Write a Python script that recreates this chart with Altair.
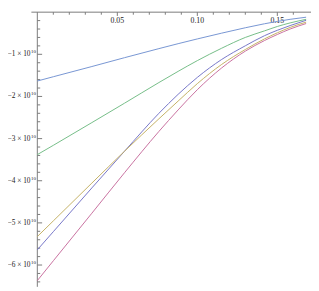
import altair as alt
import pandas as pd

# ---- data (y values in units of 10^10) ----
x_vals = [0, 0.0102, 0.0341, 0.0545, 0.076, 0.088, 0.1, 0.115, 0.13, 0.142, 0.15, 0.158, 0.168]
y_top_blue = [-1.634, -1.53, -1.29, -1.08, -0.865, -0.748, -0.635, -0.50, -0.37, -0.275, -0.22, -0.17, -0.12]
y_green = [-3.38, -3.155, -2.62, -2.16, -1.67, -1.405, -1.15, -0.86, -0.60, -0.444, -0.34, -0.255, -0.17]
y_olive = [-5.325, -4.945, -4.055, -3.30, -2.53, -2.11, -1.696, -1.246, -0.886, -0.634, -0.49, -0.362, -0.237]
y_purple = [-5.64, -5.20, -4.17, -3.30, -2.40, -1.95, -1.548, -1.128, -0.798, -0.558, -0.43, -0.318, -0.193]
y_magenta = [-6.37, -5.89, -4.77, -3.81, -2.83, -2.32, -1.84, -1.33, -0.925, -0.673, -0.53, -0.40, -0.27]

series_names = ["purple", "magenta", "olive", "green", "blue"]
series_colors = ["#7676c8", "#c8709f", "#c4b064", "#74bc86", "#7694d2"]

x_major = [0.05, 0.10, 0.15]
x_major_labels = ["0.05", "0.10", "0.15"]
x_minor = [0.01, 0.02, 0.03, 0.04, 0.06, 0.07, 0.08, 0.09, 0.11, 0.12, 0.13, 0.14, 0.16]
y_major = [-1, -2, -3, -4, -5, -6]
y_major_labels = ["\u22121 \u00d7 10", "\u22122 \u00d7 10", "\u22123 \u00d7 10",
                  "\u22124 \u00d7 10", "\u22125 \u00d7 10", "\u22126 \u00d7 10"]
y_minor = [-0.2, -0.4, -0.6, -0.8, -1.2, -1.4, -1.6, -1.8, -2.2, -2.4, -2.6, -2.8,
           -3.2, -3.4, -3.6, -3.8, -4.2, -4.4, -4.6, -4.8, -5.2, -5.4, -5.6, -5.8,
           -6.2, -6.4]

# ---- build tables ----
rows = []
for name, ys in zip(series_names, [y_purple, y_magenta, y_olive, y_green, y_top_blue]):
    for xv, yv in zip(x_vals, ys):
        rows.append({"x": xv, "y": yv, "series": name})
df = pd.DataFrame(rows)

XMIN, XMAX = -0.018326, 0.17105
YMIN, YMAX = -6.517, 0.0
xs = alt.Scale(domain=[XMIN, XMAX], nice=False, zero=False)
ys = alt.Scale(domain=[YMIN, YMAX], nice=False, zero=False)
AX = "#7a7a7a"
FONT = "Liberation Serif"

lines = alt.Chart(df).mark_line(strokeWidth=1, interpolate="monotone").encode(
    x=alt.X("x:Q", scale=xs, axis=None),
    y=alt.Y("y:Q", scale=ys, axis=None),
    color=alt.Color("series:N", scale=alt.Scale(domain=series_names, range=series_colors), legend=None),
    detail="series:N",
)

x_axis = alt.Chart(pd.DataFrame({"x": [-0.0037], "x2": [XMAX], "y": [0.0]})).mark_rule(
    color=AX, strokeWidth=1).encode(
    x=alt.X("x:Q", scale=xs, axis=None), x2="x2:Q", y=alt.Y("y:Q", scale=ys, axis=None))

y_axis = alt.Chart(pd.DataFrame({"x": [0.0], "y": [0.0], "y2": [YMIN]})).mark_rule(
    color=AX, strokeWidth=1).encode(
    x=alt.X("x:Q", scale=xs, axis=None), y=alt.Y("y:Q", scale=ys, axis=None), y2="y2:Q")

xmaj_df = pd.DataFrame({"x": x_major, "label": x_major_labels, "y": [0.0] * 3, "y2": [-0.09] * 3})
xmin_df = pd.DataFrame({"x": x_minor, "y": [0.0] * len(x_minor), "y2": [-0.06] * len(x_minor)})
x_ticks_major = alt.Chart(xmaj_df).mark_rule(color=AX).encode(
    x=alt.X("x:Q", scale=xs, axis=None), y=alt.Y("y:Q", scale=ys, axis=None), y2="y2:Q")
x_ticks_minor = alt.Chart(xmin_df).mark_rule(color=AX).encode(
    x=alt.X("x:Q", scale=xs, axis=None), y=alt.Y("y:Q", scale=ys, axis=None), y2="y2:Q")
x_labels = alt.Chart(xmaj_df).mark_text(font=FONT, fontSize=8, baseline="top", dy=5, color="#222").encode(
    x=alt.X("x:Q", scale=xs, axis=None), y=alt.Y("y:Q", scale=ys, axis=None), text="label:N")

ymaj_df = pd.DataFrame({"y": y_major, "label": y_major_labels, "x": [0.0] * 6, "x2": [0.003] * 6,
                        "sup": ["10"] * 6})
ymin_df = pd.DataFrame({"y": y_minor, "x": [0.0] * len(y_minor), "x2": [0.0018] * len(y_minor)})
y_ticks_major = alt.Chart(ymaj_df).mark_rule(color=AX).encode(
    y=alt.Y("y:Q", scale=ys, axis=None), x=alt.X("x:Q", scale=xs, axis=None), x2="x2:Q")
y_ticks_minor = alt.Chart(ymin_df).mark_rule(color=AX).encode(
    y=alt.Y("y:Q", scale=ys, axis=None), x=alt.X("x:Q", scale=xs, axis=None), x2="x2:Q")
y_labels = alt.Chart(ymaj_df).mark_text(font=FONT, fontSize=7.5, align="right", baseline="middle",
                                        dx=-7, color="#222").encode(
    y=alt.Y("y:Q", scale=ys, axis=None), x=alt.X("x:Q", scale=xs, axis=None), text="label:N")
y_sup = alt.Chart(ymaj_df).mark_text(font=FONT, fontSize=5, align="right", baseline="middle",
                                     dx=-1.5, dy=-3, color="#222").encode(
    y=alt.Y("y:Q", scale=ys, axis=None), x=alt.X("x:Q", scale=xs, axis=None), text="sup:N")

chart = alt.layer(
    x_axis, y_axis, x_ticks_major, x_ticks_minor, y_ticks_major, y_ticks_minor,
    x_labels, y_labels, y_sup, lines
).properties(
    width=310, height=281,
    autosize=alt.AutoSizeParams(type="none"),
    padding={"left": 0, "top": 1, "right": 0, "bottom": 0},
).configure_view(stroke=None)

chart.save("out.html", embed_options={"renderer": "svg", "actions": False})
